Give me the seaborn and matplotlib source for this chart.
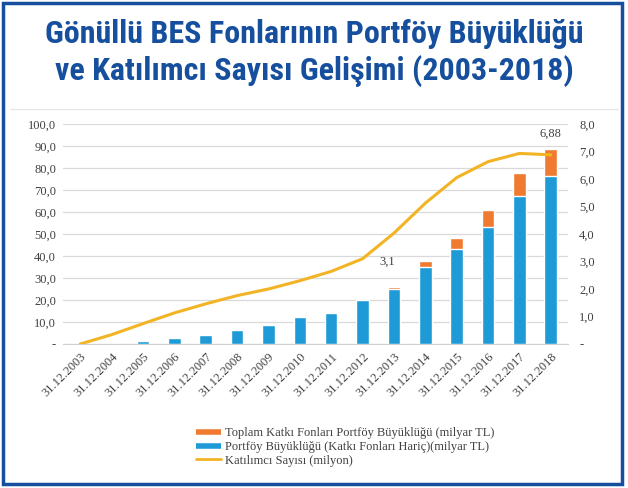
import numpy as np
import pandas as pd
import matplotlib
matplotlib.use("Agg")
import matplotlib.pyplot as plt
from matplotlib.lines import Line2D
from matplotlib.patches import Rectangle
from matplotlib.ticker import FuncFormatter, MultipleLocator
import seaborn as sns

# 데이터
dates = ["31.12.2003", "31.12.2004", "31.12.2005", "31.12.2006", "31.12.2007",
         "31.12.2008", "31.12.2009", "31.12.2010", "31.12.2011", "31.12.2012",
         "31.12.2013", "31.12.2014", "31.12.2015", "31.12.2016", "31.12.2017",
         "31.12.2018"]
portfoy_haric = [0.0, 0.2, 1.2, 2.7, 4.2, 6.2, 8.8, 12.1, 14.1, 20.1,
                 25.0, 34.8, 43.0, 53.1, 67.5, 76.4]
katki_fonlari = [0.0, 0.0, 0.0, 0.0, 0.0, 0.0, 0.0, 0.0, 0.0, 0.0,
                 1.0, 3.0, 5.0, 7.6, 10.1, 12.1]
katilimci = [0.0, 0.34, 0.74, 1.13, 1.46, 1.76, 2.0, 2.3, 2.64, 3.1,
             4.03, 5.12, 6.05, 6.63, 6.93, 6.88]

title = "Gönüllü BES Fonlarının Portföy Büyüklüğü\nve Katılımcı Sayısı Gelişimi (2003-2018)"
lbl_katki = "Toplam Katkı Fonları Portföy Büyüklüğü (milyar TL)"
lbl_portfoy = "Portföy Büyüklüğü (Katkı Fonları Hariç)(milyar TL)"
lbl_katilimci = "Katılımcı Sayısı (milyon)"

BLUE = "#1e9bd7"
ORANGE = "#f07b30"
GOLD = "#f2b425"
NAVY = "#164f9d"
TICK = "#404040"

df = pd.DataFrame({
    "tarih": dates,
    "haric": portfoy_haric,
    "toplam": np.array(portfoy_haric) + np.array(katki_fonlari),
    "katilimci": katilimci,
})

sns.set_style("white")
plt.rcParams["font.family"] = ["Liberation Serif", "DejaVu Serif"]

fig = plt.figure(figsize=(6.28, 4.88), dpi=100)
ax = fig.add_axes([63 / 628, 1 - 344 / 488, (568 - 63) / 628, 220 / 488])

sns.barplot(data=df, x="tarih", y="toplam", color=ORANGE, width=0.4,
            saturation=1, ax=ax, zorder=2)
sns.barplot(data=df, x="tarih", y="haric", color=BLUE, width=0.4,
            saturation=1, ax=ax, zorder=3)

ax.set_ylim(0, 100)
ax.set_xlim(-0.55, len(dates) - 0.45)
ax.yaxis.set_major_locator(MultipleLocator(10))
fmt = FuncFormatter(lambda v, p: "-" if abs(v) < 1e-9 else f"{v:.1f}".replace(".", ","))
ax.yaxis.set_major_formatter(fmt)
ax.grid(axis="y", color="#d9d9d9", linewidth=0.9, zorder=0)
ax.set_axisbelow(True)
ax.set_xlabel("")
ax.set_ylabel("")
for s in ["top", "left", "right"]:
    ax.spines[s].set_visible(False)
ax.spines["bottom"].set_color("#d0d0d0")
ax.tick_params(axis="both", length=0, labelsize=9, colors=TICK, pad=5)
plt.setp(ax.get_xticklabels(), rotation=45, ha="right", rotation_mode="anchor")

ax2 = ax.twinx()
sns.lineplot(x=np.arange(len(dates)), y=df["katilimci"], color=GOLD,
             linewidth=2.2, ax=ax2)
ax2.set_ylim(0, 8)
ax2.set_ylabel("")
ax2.yaxis.set_major_locator(MultipleLocator(1))
ax2.yaxis.set_major_formatter(fmt)
ax2.tick_params(axis="y", length=0, labelsize=9, colors=TICK, pad=8)
for s in ax2.spines.values():
    s.set_visible(False)

# veri etiketleri
ax2.annotate("3,1", (9, katilimci[9]), xytext=(12, -2), textcoords="offset points",
             fontsize=9, color=TICK, va="center", ha="left")
ax2.annotate(f"{katilimci[-1]:.2f}".replace(".", ","), (15, katilimci[-1]),
             xytext=(0, 11), textcoords="offset points",
             fontsize=9, color=TICK, va="bottom", ha="center")

handles = [
    Line2D([0], [0], color=ORANGE, lw=4, solid_capstyle="butt"),
    Line2D([0], [0], color=BLUE, lw=4, solid_capstyle="butt"),
    Line2D([0], [0], color=GOLD, lw=2),
]
fig.legend(handles, [lbl_katki, lbl_portfoy, lbl_katilimci],
           loc="upper left", bbox_to_anchor=(196 / 628, 1 - 427 / 488),
           frameon=False, fontsize=9, handlelength=2.0, handletextpad=0.3,
           labelspacing=0.15, borderaxespad=0, borderpad=0,
           labelcolor=TICK)

fig.text(0.5, 1 - 53 / 488, title, ha="center", va="center", color=NAVY,
         fontsize=23, fontweight="bold", linespacing=1.25,
         family=["Roboto Condensed", "Roboto", "DejaVu Sans"])

# ayırıcı çizgi ve çerçeve
fig.add_artist(Line2D([10 / 628, 618 / 628], [1 - 109 / 488, 1 - 109 / 488],
                      color="#e6e6e6", lw=1))
fig.add_artist(Rectangle((3 / 628, 4 / 488), 619 / 628, 481 / 488,
                         fill=False, edgecolor=NAVY, lw=2.5))

fig.savefig("out.png", dpi=100)
